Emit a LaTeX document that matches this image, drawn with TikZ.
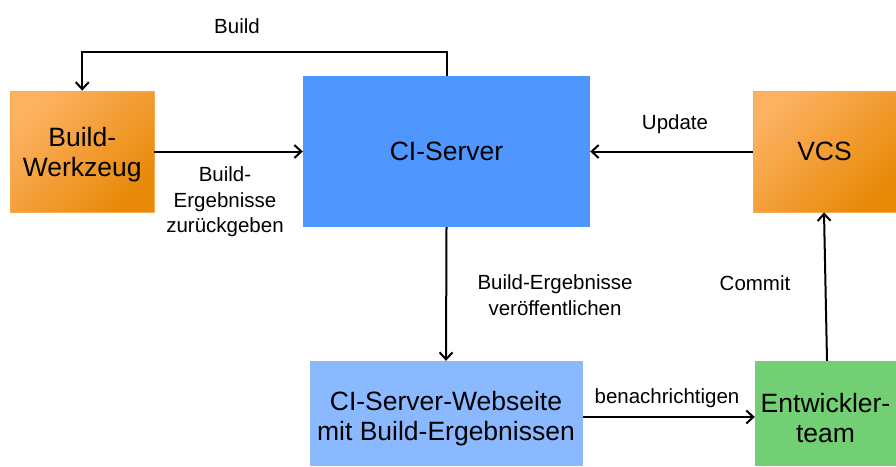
\documentclass[tikz,border=0pt]{standalone}
\usepackage{fontspec}
\setmainfont{Liberation Sans}
\usetikzlibrary{arrows.meta}
\definecolor{orL}{RGB}{253,178,98}
\definecolor{orD}{RGB}{232,137,8}
\definecolor{ciblue}{RGB}{79,151,255}
\definecolor{webblue}{RGB}{138,185,255}
\definecolor{devgreen}{RGB}{114,207,116}
\tikzset{
  orbox/.style={draw=orL!80!orD, line width=0.8pt, top color=orL, bottom color=orD, shading angle=45, align=center, font=\fontsize{26.5}{30}\selectfont},
  flatbox/.style={draw=none, align=center, font=\fontsize{26.5}{30}\selectfont},
  boxtext/.style={align=center, font=\fontsize{26.5}{30}\selectfont},
  arr/.style={draw=black, line width=2pt, -{Straight Barb[length=7pt,width=13pt,line width=2pt]}},
  lbl/.style={align=center, font=\fontsize{20.5}{25.5}\selectfont},
}
\begin{document}
\begin{tikzpicture}[x=1pt,y=-1pt]
\useasboundingbox (0,0) rectangle (896,466);
\node[orbox, minimum width=143.5pt, minimum height=121pt] (bw) at (82.25,151.5) {};
\node[boxtext] (bwt) at ([yshift=-3pt]bw.center) {Build-\\Werkzeug};
\node[flatbox, fill=ciblue, minimum width=287pt, minimum height=151pt] (ci) at (446.5,151.5) {CI-Server};
\node[orbox, minimum width=143pt, minimum height=121pt] (vcs) at (824.5,151.5) {VCS};
\node[flatbox, fill=webblue, minimum width=273pt, minimum height=105pt] (web) at (446,413.5) {};
\node[boxtext] (webt) at ([yshift=-5pt]web.center) {CI-Server-Webseite\\mit Build-Ergebnissen};
\node[flatbox, fill=devgreen, minimum width=141pt, minimum height=105pt] (dev) at (825.5,413.5) {};
\node[boxtext] (devt) at ([yshift=-5pt]dev.center) {Entwickler-\\team};

\draw[arr] (ci.north) -- ++(0,-24) coordinate (c1) -| (bw.north);
\draw[arr] (bw.east) -- (ci.west);
\draw[arr] (vcs.west) -- (ci.east);
\draw[arr] (ci.south) -- (web.north);
\draw[arr] ([yshift=-3.5pt]web.east) -- ([yshift=-3.5pt]dev.west);
\draw[arr] ([xshift=1.5pt]dev.north) -- ([xshift=-0.5pt]vcs.south);

\node[lbl] (l1) at (237,26) {Build};
\node[lbl] (l2) at (225,202) {Build-\\Ergebnisse\\zurückgeben};
\node[lbl] (l3) at (675,124) {Update};
\node[lbl] (l4) at (555,295) {Build-Ergebnisse\\veröffentlichen};
\node[lbl] (l5) at (755,283) {Commit};
\node[lbl] (l6) at (667,398) {benachrichtigen};
\end{tikzpicture}
\end{document}
